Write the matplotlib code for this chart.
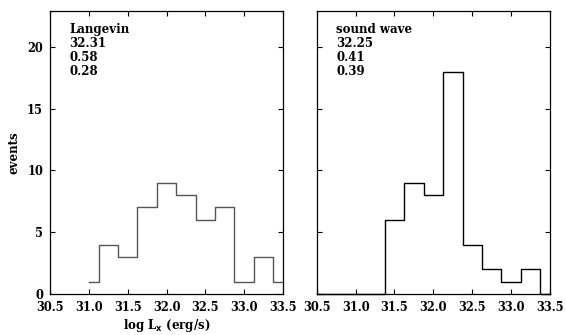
import matplotlib
matplotlib.use("Agg")
import matplotlib.pyplot as plt
import numpy as np

# Data
left_centers = [31.0, 31.25, 31.5, 31.75, 32.0, 32.25, 32.5, 32.75, 33.0, 33.25, 33.5]
left_counts = [1, 4, 3, 7, 9, 8, 6, 7, 1, 3, 1]
right_centers = [30.5, 30.75, 31.0, 31.25, 31.5, 31.75, 32.0, 32.25, 32.5, 32.75, 33.0, 33.25, 33.5]
right_counts = [0, 0, 0, 0, 6, 9, 8, 18, 4, 2, 1, 2, 0]
left_text = ["Langevin", "32.31", "0.58", "0.28"]
right_text = ["sound wave", "32.25", "0.41", "0.39"]
xticks = [30.5, 31.0, 31.5, 32.0, 32.5, 33.0, 33.5]
yticks = [0, 5, 10, 15, 20]

plt.rcParams['font.family'] = ['DejaVu Serif']
plt.rcParams['font.weight'] = 'bold'
plt.rcParams['mathtext.default'] = 'bf'

fig = plt.figure(figsize=(5.66, 3.35), dpi=100)
W, H = 566, 335

def make_ax(x0, x1, y0, y1):
    return fig.add_axes([x0 / W, 1 - y1 / H, (x1 - x0) / W, (y1 - y0) / H])

axL = make_ax(50, 283, 11, 294)
axR = make_ax(316.7, 550, 11, 294)

for ax, cx, cy, col, txt in [(axL, left_centers, left_counts, '#555555', left_text),
                             (axR, right_centers, right_counts, 'black', right_text)]:
    ax.step(cx, cy, where='mid', color=col, lw=1.0, clip_on=False)
    ax.set_xlim(30.5, 33.5)
    ax.set_ylim(0, 22.9)
    ax.set_xticks(xticks)
    ax.set_xticklabels([f"{t:.1f}" for t in xticks])
    ax.set_yticks(yticks)
    ax.tick_params(direction='in', top=True, right=True, length=3.8, width=0.8,
                   labelsize=8.3, pad=5)
    for s in ax.spines.values():
        s.set_linewidth(0.9)
    for i, t in enumerate(txt):
        ax.text(0.083, 0.935 - i * 0.05, t, transform=ax.transAxes,
                fontsize=8.5, va='center', ha='left', fontweight='bold')

axR.tick_params(labelleft=False)
axL.set_ylabel("events", fontsize=8.5, fontweight='bold', labelpad=5)
axL.set_xlabel(r"log L$_\mathbf{x}$ (erg/s)", fontsize=8.5, fontweight='bold', labelpad=2)

fig.savefig("out.png", dpi=100)
